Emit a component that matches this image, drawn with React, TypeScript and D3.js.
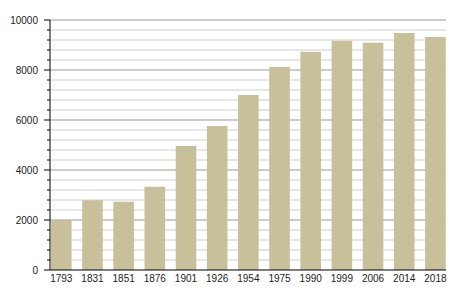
import React from "react";
import * as d3 from "d3";

const years = ["1793","1831","1851","1876","1901","1926","1954","1975","1990","1999","2006","2014","2018"];
const population = [2000, 2790, 2730, 3330, 4960, 5760, 7000, 8120, 8730, 9170, 9090, 9480, 9320];
const yTicks = [0, 2000, 4000, 6000, 8000, 10000];

export default function App() {
  const W = 455, H = 300;
  const left = 50, right = 446, top = 20, bottom = 270;
  const x = d3.scaleBand<string>().domain(years).range([51, 445.7]).paddingInner(0.34).paddingOuter(0);
  const y = d3.scaleLinear().domain([0, 10000]).range([bottom, top]);
  const minor = d3.range(0, 10001, 400).filter(v => v % 2000 !== 0);
  const font = "'Liberation Sans', Arial, sans-serif";
  return (
    <svg width={W} height={H} style={{ position: "absolute", left: 0, top: 0, background: "#fff" }}>
      {minor.map(v => (
        <g key={"m" + v}>
          <line x1={left} x2={right} y1={y(v)} y2={y(v)} stroke="#cfcfcf" strokeWidth={1} />
          <line x1={left - 3} x2={left} y1={y(v)} y2={y(v)} stroke="#000" strokeWidth={1} />
        </g>
      ))}
      {yTicks.map(v => (
        <g key={"M" + v}>
          {v > 0 && <line x1={left} x2={right} y1={y(v)} y2={y(v)} stroke="#999" strokeWidth={1} />}
          <line x1={left - 6} x2={left} y1={y(v)} y2={y(v)} stroke="#000" strokeWidth={1} />
          <text x={38} y={y(v) + 3.5} textAnchor="end" fontSize={10} fontFamily={font} fill="#222">{v}</text>
        </g>
      ))}
      {years.map((yr, i) => (
        <rect key={yr} x={x(yr)} y={y(population[i])} width={x.bandwidth()} height={bottom - y(population[i])} fill="#c8bf9b" />
      ))}
      {years.map(yr => (
        <text key={"t" + yr} x={(x(yr) as number) + x.bandwidth() / 2} y={282} textAnchor="middle" fontSize={10} fontFamily={font} fill="#222">{yr}</text>
      ))}
      <line x1={left} x2={left} y1={top} y2={bottom} stroke="#000" strokeWidth={1} />
      <line x1={left} x2={right} y1={bottom} y2={bottom} stroke="#000" strokeWidth={1} />
    </svg>
  );
}
